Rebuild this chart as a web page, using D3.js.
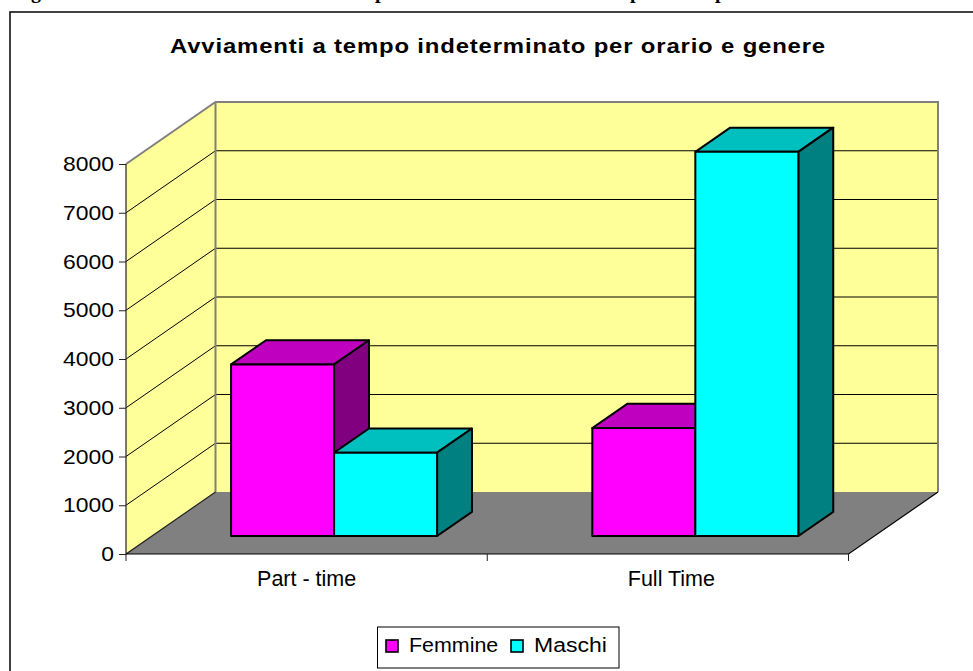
<!DOCTYPE html>
<html><head><meta charset="utf-8">
<script src="https://cdn.jsdelivr.net/npm/d3@7/dist/d3.min.js"></script>
<style>html,body{margin:0;padding:0;background:#fff}svg{display:block}</style>
</head><body><svg id="c" width="973" height="671"></svg>
<script>
const categories = ["Part - time", "Full Time"];
const seriesNames = ["Femmine", "Maschi"];
const femmine = [3520, 2215];
const maschi = [1710, 7880];
const yTicks = [0,1000,2000,3000,4000,5000,6000,7000,8000];
const chartTitle = "Avviamenti a tempo indeterminato per orario e genere";
const headingFragments = ["g","p","p","p"];

const svg = d3.select("#c");
const FONT = "Liberation Sans, Arial, sans-serif";
const colors = d3.scaleOrdinal().domain(seriesNames).range(["#FF00FF", "#00FFFF"]);
const tops = d3.scaleOrdinal().domain(seriesNames).range(["#BF00BF", "#00BFBF"]);
const sides = d3.scaleOrdinal().domain(seriesNames).range(["#800080", "#008080"]);

const x = d3.scaleBand().domain(categories).range([126,848.5]);
const y = d3.scaleLinear().domain([0,8000]).range([554,164]);
const D = {x:89.5, y:-62};
const P = (px, v, d) => [px + D.x*d, y(v) + D.y*d];
const line = d3.line();
const closed = pts => line(pts) + "Z";
const stretch = (sel, ratio) => sel.each(function(){
  const w = this.getComputedTextLength();
  d3.select(this).attr("textLength", w*ratio).attr("lengthAdjust","spacingAndGlyphs");
});

svg.append("rect").attr("x",10).attr("y",12).attr("width",990).attr("height",700)
  .attr("fill","#fff").attr("stroke","#111").attr("stroke-width",1.6);

// heading above the chart: only the descenders are left inside the picture
const headingX = d3.scaleOrdinal().domain(d3.range(4)).range([31,375,630,715]);
svg.selectAll("text.hd").data(headingFragments).join("text").attr("class","hd")
  .attr("x",(d,i)=>headingX(i)).attr("y",-2.5)
  .attr("font-family","Liberation Serif, serif").attr("font-weight","bold").attr("font-size",20).text(d=>d);

svg.append("text").attr("x",498).attr("y",53).attr("text-anchor","middle")
  .attr("font-family",FONT).attr("font-weight","bold").attr("font-size",20)
  .attr("letter-spacing",0.7).text(chartTitle)
  .each(function(){ d3.select(this).attr("textLength",656).attr("lengthAdjust","spacingAndGlyphs"); });

// walls
const L = x.range()[0], R = x.range()[1];
svg.append("path").attr("d",closed([P(L,0,0),P(L,0,1),P(L,8000,1),P(L,8000,0)])).attr("fill","#FFFF99");
svg.append("path").attr("d",closed([P(L,0,1),P(R,0,1),P(R,8000,1),P(L,8000,1)])).attr("fill","#FFFF99");
svg.append("path").attr("d",closed([P(L,0,0),P(R,0,0),P(R,0,1),P(L,0,1)])).attr("fill","#808080");

// gridlines
yTicks.filter(v=>v>0&&v<8000).forEach(v=>{
  svg.append("path").attr("d",line([P(L,v,0),P(L,v,1),P(R,v,1)])).attr("fill","none").attr("stroke","#000").attr("stroke-width",1);
});
// wall edges
svg.append("path").attr("d",line([P(L,8000,0),P(L,8000,1),P(R,8000,1),P(R,0,1)])).attr("fill","none").attr("stroke","#808080").attr("stroke-width",2);
svg.append("path").attr("d",line([P(L,8000,1),P(L,0,1)])).attr("fill","none").attr("stroke","#808080").attr("stroke-width",2);
// axes
svg.append("path").attr("d",line([P(L,8000,0),P(L,0,0),P(L,0,1)])).attr("fill","none").attr("stroke","#222").attr("stroke-width",1.2);
svg.append("path").attr("d",line([P(L,0,0),P(R,0,0),P(R,0,1)])).attr("fill","none").attr("stroke","#000").attr("stroke-width",1.2);

// y axis
const yAxis = d3.axisLeft(y).tickValues(yTicks).tickSize(7).tickPadding(5).tickFormat(d3.format("d"));
const yg = svg.append("g").attr("transform","translate(126,0)").call(yAxis);
yg.select(".domain").remove();
yg.selectAll("line").attr("stroke","#222");
yg.selectAll("text").attr("font-family",FONT).attr("font-size",21).attr("fill","#000").call(stretch,1.09);
// x axis
const xAxis = d3.axisBottom(x).tickSize(0).tickPadding(16.5);
const xg = svg.append("g").attr("transform","translate(0,554)").call(xAxis);
xg.select(".domain").remove();
xg.selectAll("text").attr("font-family",FONT).attr("font-size",21.5).attr("fill","#000")
  .attr("dx",(d,i)=>i*3.5);
[L, L+x.bandwidth(), R].forEach(px=>{
  svg.append("line").attr("x1",px).attr("x2",px).attr("y1",554).attr("y2",561).attr("stroke","#222");
});

// bars
const barW = 103, dFront = 0.29, dBack = 0.68, shift = 1.5;
const table = categories.flatMap((c,i)=>[
  {c,s:seriesNames[0],v:femmine[i],k:0},
  {c,s:seriesNames[1],v:maschi[i],k:1}]);
const g = svg.append("g").attr("stroke","#000").attr("stroke-width",2).attr("stroke-linejoin","round");
table.forEach(d=>{
  const x0 = x(d.c) + x.bandwidth()/2 + shift + (d.k-1)*barW;
  const x1 = x0 + barW;
  g.append("path").attr("d",closed([P(x0,d.v,dFront),P(x1,d.v,dFront),P(x1,d.v,dBack),P(x0,d.v,dBack)])).attr("fill",tops(d.s));
  g.append("path").attr("d",closed([P(x1,0,dFront),P(x1,d.v,dFront),P(x1,d.v,dBack),P(x1,0,dBack)])).attr("fill",sides(d.s));
  g.append("path").attr("d",closed([P(x0,0,dFront),P(x1,0,dFront),P(x1,d.v,dFront),P(x0,d.v,dFront)])).attr("fill",colors(d.s));
});

// legend
const lg = svg.append("g");
lg.append("rect").attr("x",377.5).attr("y",627).attr("width",241.5).attr("height",41).attr("fill","#fff").attr("stroke","#000");
const lx = d3.scaleOrdinal().domain(seriesNames).range([386,511]);
const lr = d3.scaleOrdinal().domain(seriesNames).range([1.07,1.15]);
seriesNames.forEach(s=>{
  lg.append("rect").attr("x",lx(s)).attr("y",640).attr("width",12).attr("height",12).attr("fill",colors(s)).attr("stroke","#000").attr("stroke-width",1.6);
  lg.append("text").attr("x",lx(s)+23).attr("y",651.5).attr("font-family",FONT).attr("font-size",20).text(s).call(stretch,lr(s));
});
</script></body></html>
